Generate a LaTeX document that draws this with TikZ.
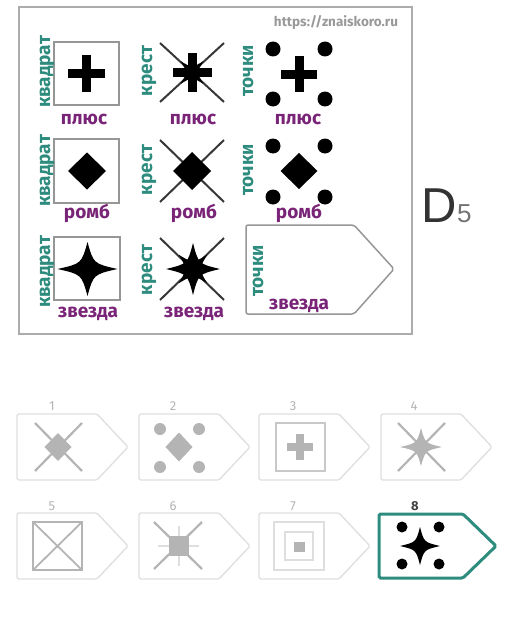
\documentclass[tikz,border=0pt]{standalone}
\usepackage{fontspec}
\setmainfont{Fira Sans}
\newfontfamily\arialf{Liberation Sans}
\definecolor{tealc}{RGB}{46,140,126}
\definecolor{purp}{RGB}{122,36,120}
\definecolor{frameg}{RGB}{172,172,172}
\definecolor{boxg}{RGB}{150,150,150}
\definecolor{optl}{RGB}{222,222,222}
\definecolor{optf}{RGB}{180,180,180}
\definecolor{crossc}{RGB}{55,55,55}
\tikzset{
  lbl/.style={text=tealc, font=\bfseries\fontsize{19}{19}\selectfont, rotate=90, anchor=base, inner sep=0},
  nm/.style={text=purp, font=\bfseries\fontsize{19}{19}\selectfont, anchor=base, inner sep=0},
  cellbox/.style={draw=boxg, line width=1.5},
  crossl/.style={draw=crossc, line width=2},
  optshape/.style={draw=optl, line width=1.3, rounded corners=1.5},
  optline/.style={draw=optf, line width=2.2},
  num/.style={text=optf, font=\fontsize{13}{13}\selectfont, anchor=base, inner sep=0},
}
\newcommand\plusf[5]{%
  \fill[#1] (#2-#4,#3-#5/2) rectangle (#2+#4,#3+#5/2);
  \fill[#1] (#2-#5/2,#3-#4) rectangle (#2+#5/2,#3+#4);}
\newcommand\starf[7]{% opts, x, y, rx, ry, c
  \fill[#1,shift={(#2,#3)},#7] (0,-#5) .. controls (#6*#4,-#6*#5) .. (#4,0) .. controls (#6*#4,#6*#5) .. (0,#5) .. controls (-#6*#4,#6*#5) .. (-#4,0) .. controls (-#6*#4,-#6*#5) .. cycle;}
\newcommand\diam[5]{%
  \fill[#1] (#2,#3-#5) -- (#2+#4,#3) -- (#2,#3+#5) -- (#2-#4,#3) -- cycle;}
\newcommand\optpent[4]{%
  \draw[#1] (#2,#3) -- (#2+80,#3) -- (#2+111,{(#3+#4)/2}) -- (#2+80,#4) -- (#2,#4) -- cycle;}
\begin{document}
\begin{tikzpicture}[x=1pt,y=-1pt]
\useasboundingbox (0,0) rectangle (514,618);
% frame
\draw[draw=frameg, line width=2] (19,7) rectangle (412,334);
\node[text=optf!85!black, font=\bfseries\fontsize{13.5}{13.5}\selectfont, anchor=base, inner sep=0] (wm) at (336,27) {https://znaiskoro.ru};
% row 1
\draw[cellbox] (54,42) rectangle (119,105);
\plusf{black}{86.5}{73.5}{18.5}{9}
\draw[crossl] (160,43) -- (224,102) (160,102) -- (224,43);
\plusf{black}{192}{72.5}{19.5}{9}
\starf{black}{192}{72.5}{16}{16}{0.2}{rotate=45}
\foreach \p in {(273,49),(325,49),(273,99),(325,99)} \fill \p circle (7.5);
\plusf{black}{299}{74}{18}{9}
\node[lbl] (l11) at (50,72) {квадрат};
\node[lbl] (l12) at (152,71) {крест};
\node[lbl] (l13) at (253,71) {точки};
\node[nm] (n11) at (84,124) {плюс};
\node[nm] (n12) at (193,124) {плюс};
\node[nm] (n13) at (298,124) {плюс};
% row 2
\draw[cellbox] (54,139) rectangle (119,203);
\diam{black}{87}{171}{19}{18.5}
\draw[crossl] (160,140) -- (224,202) (160,202) -- (224,140);
\diam{black}{192}{171}{19}{19}
\foreach \p in {(273,146),(325,146),(273,197),(325,197)} \fill \p circle (7.5);
\diam{black}{299}{171}{18.5}{18}
\node[lbl] (l21) at (50,171) {квадрат};
\node[lbl] (l22) at (152,170) {крест};
\node[lbl] (l23) at (253,170) {точки};
\node[nm] (n21) at (87,218) {ромб};
\node[nm] (n22) at (194,218) {ромб};
\node[nm] (n23) at (299,218) {ромб};
% row 3
\draw[cellbox] (54,237) rectangle (120,300);
\starf{black}{87.5}{269}{30}{27}{0.2}{}
\draw[crossl] (160,238) -- (224,300) (160,300) -- (224,238);
\starf{black}{193}{269}{27}{26}{0.2}{}
\starf{black}{193}{269}{20}{20}{0.2}{rotate=45}
\draw[draw=boxg, line width=1.5, rounded corners=2] (246,225) -- (354,225) -- (394,269) -- (354,314) -- (246,314) -- cycle;
\node[lbl] (l31) at (50,272) {квадрат};
\node[lbl] (l32) at (152,270) {крест};
\node[lbl] (l33) at (263,271) {точки};
\node[nm] (n31) at (88,317) {звезда};
\node[nm] (n32) at (194,317) {звезда};
\node[nm] (n33) at (299,309) {звезда};
% D5
\node[text=black!80, font=\arialf\fontsize{49}{49}\selectfont, anchor=base east, inner sep=0] (dd) at (457,222) {D};
\node[text=black!55, font=\arialf\fontsize{26}{26}\selectfont, anchor=base west, inner sep=0] (d5) at (457,222) {5};
% options row 1
\optpent{optshape}{17}{414}{480}
\optpent{optshape}{139}{414}{480}
\optpent{optshape}{259}{414}{480}
\optpent{optshape}{381}{414}{480}
\node[num] (o1) at (52,410) {1};
\node[num] (o2) at (173,410) {2};
\node[num] (o3) at (293,410) {3};
\node[num] (o4) at (414,410) {4};
% option 1
\draw[optline] (35,423) -- (82,471) (35,471) -- (82,423);
\diam{optf}{58}{447}{13.5}{14}
% option 2
\foreach \p in {(160,429),(199,429),(160,467),(199,467)} \fill[optf] \p circle (6);
\diam{optf}{179}{447}{13.5}{14.5}
% option 3
\draw[draw=optl!90!black, line width=1.3] (276,423) rectangle (325,471);
\plusf{optf}{300}{447}{13}{8}
% option 4
\draw[optline] (398,423) -- (445,471) (398,471) -- (445,423);
\starf{optf}{421}{447}{21}{19}{0.2}{}
% options row 2
\optpent{optshape}{17}{513}{579}
\optpent{optshape}{139}{513}{579}
\optpent{optshape}{259}{513}{579}
\node[num] (o5) at (52,510) {5};
\node[num] (o6) at (173,510) {6};
\node[num] (o7) at (293,510) {7};
\node[num, text=black!75, font=\bfseries\fontsize{13}{13}\selectfont] (o8) at (415,510) {8};
% option 5
\draw[optline, line width=1.8] (33,522) rectangle (82,570) (33,522) -- (82,570) (33,570) -- (82,522);
% option 6
\draw[optline] (154,522) -- (202,569) (154,569) -- (202,522);
\draw[draw=optl, line width=1.2] (158,546) -- (199,546) (179,526) -- (179,566);
\fill[optf] (169,536) rectangle (189,556);
% option 7
\draw[draw=optl, line width=1.3] (274,522) rectangle (324,570) (285,532) rectangle (313,560);
\fill[optf] (294,542) rectangle (305,552);
% option 8
\draw[draw=tealc, line width=3, rounded corners=1.5] (379,514) -- (463,514) -- (496,546) -- (463,578) -- (379,578) -- cycle;
\foreach \p in {(402,527),(439,527),(402,564),(439,564)} \fill \p circle (5.5);
\starf{black}{420}{546}{20}{19}{0.2}{}
\end{tikzpicture}
\end{document}
